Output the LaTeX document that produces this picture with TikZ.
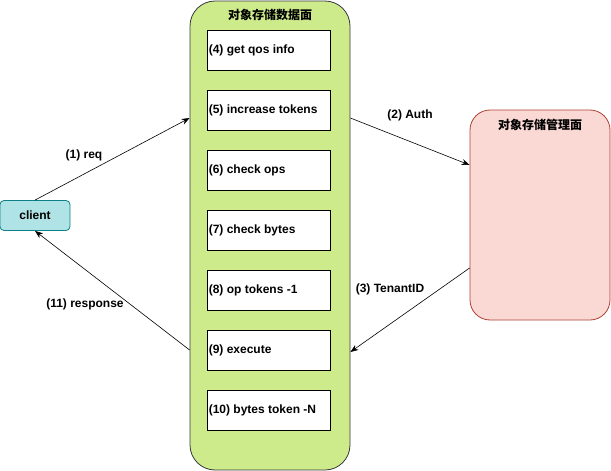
\documentclass[tikz,border=0pt]{standalone}
\usepackage{fontspec}
\setmainfont{Liberation Sans}
\newfontfamily\cjk{Noto Sans CJK SC}
\usetikzlibrary{arrows.meta,calc}
\definecolor{greenfill}{HTML}{CDEB8B}
\definecolor{greenline}{HTML}{36393D}
\definecolor{cyanfill}{HTML}{B0E3E6}
\definecolor{cyanline}{HTML}{0E8088}
\definecolor{pinkfill}{HTML}{FAD9D5}
\definecolor{pinkline}{HTML}{AE4132}
\begin{document}
\begin{tikzpicture}[x=1pt,y=-1pt,
  font=\fontsize{12}{14}\selectfont\bfseries,
  stepbox/.style={draw=black,fill=white,line width=0.8pt,minimum width=123pt,minimum height=40pt,inner sep=0pt},
  steptext/.style={anchor=west,inner sep=0pt},
  conn/.style={line width=0.6pt,-{Stealth[length=8pt,width=6pt]}},
  lbl/.style={inner sep=0pt}]
\useasboundingbox (0,0) rectangle (611,471);
% containers
\node[draw=greenline,fill=greenfill,line width=0.8pt,rounded corners=25pt,minimum width=160pt,minimum height=469pt,inner sep=0pt] (data) at (270,235.5) {};
\node[lbl] (datatitle) at (270,15) {\cjk 对象存储数据面};
\node[draw=pinkline,fill=pinkfill,line width=0.8pt,rounded corners=20pt,minimum width=140pt,minimum height=210pt,inner sep=0pt] (mgmt) at (540,215) {};
\node[lbl] (mgmttitle) at (540,125) {\cjk 对象存储管理面};
\node[draw=cyanline,fill=cyanfill,line width=0.8pt,rounded corners=4pt,minimum width=70pt,minimum height=30pt,inner sep=0pt] (client) at (35,215.5) {client};
% steps
\foreach \n/\y/\t in {s4/50/{(4) get qos info},s5/110/{(5) increase tokens},s6/170/{(6) check ops},s7/230/{(7) check bytes},s8/290/{(8) op tokens -1},s9/350/{(9) execute},s10/410/{(10) bytes token -N}}{
  \node[stepbox] (\n) at (268.5,\y) {};
  \node[steptext] (\n t) at ($(\n.west)+(2,0)$) {\t};
}
% connector points
\coordinate (d1) at (data.west |- 0,118);
\coordinate (d2) at (data.east |- 0,118);
\coordinate (m2) at (mgmt.west |- 0,165);
\coordinate (m3) at (mgmt.west |- 0,268);
\coordinate (d3) at (data.east |- 0,352);
\coordinate (d11) at (data.west |- 0,350);
\draw[conn] (client.north) -- (d1);
\draw[conn] (d2) -- (m2);
\draw[conn] (m3) -- (d3);
\draw[conn] (d11) -- (client.south);
% labels
\node[lbl] (l1) at (84,155) {(1) req};
\node[lbl] (l2) at (410,115) {(2) Auth};
\node[lbl] (l3) at (390,289) {(3) TenantID};
\node[lbl] (l11) at (85,304) {(11) response};
\end{tikzpicture}
\end{document}
